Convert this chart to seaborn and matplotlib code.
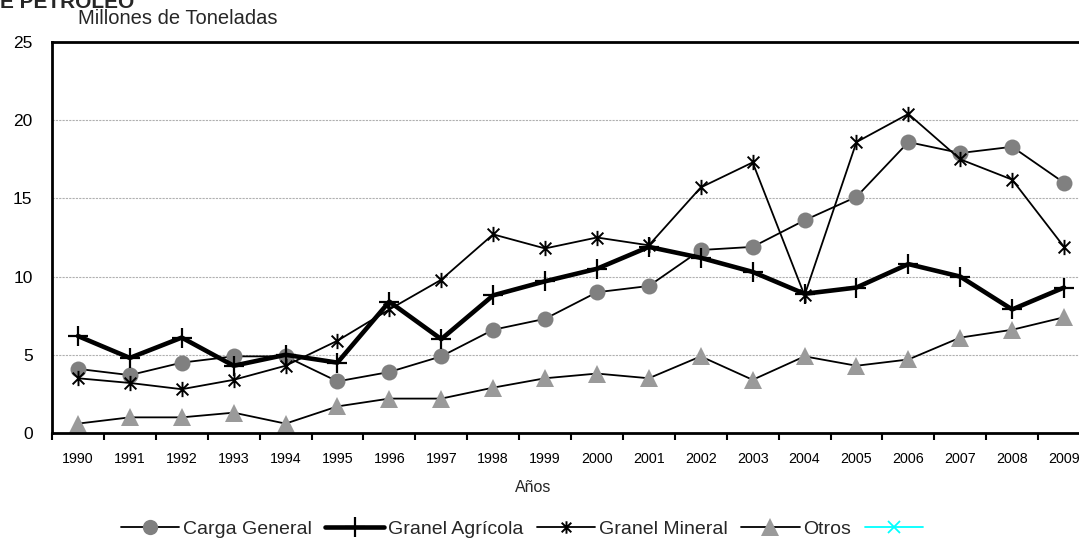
import numpy as np
import pandas as pd
import matplotlib
matplotlib.use("Agg")
import matplotlib.pyplot as plt
from matplotlib.path import Path
from matplotlib.lines import Line2D
import seaborn as sns

years = [str(y) for y in range(1990, 2010)]
carga_general = [4.1, 3.7, 4.5, 4.9, 4.9, 3.3, 3.9, 4.9, 6.6, 7.3, 9.0, 9.4, 11.7, 11.9, 13.6, 15.1, 18.6, 17.9, 18.3, 16.0]
granel_agricola = [6.2, 4.8, 6.1, 4.3, 5.0, 4.5, 8.4, 6.0, 8.8, 9.7, 10.5, 11.9, 11.2, 10.3, 8.9, 9.3, 10.8, 10.0, 7.9, 9.3]
granel_mineral = [3.5, 3.2, 2.8, 3.4, 4.3, 5.9, 7.9, 9.8, 12.7, 11.8, 12.5, 12.0, 15.7, 17.3, 8.8, 18.6, 20.4, 17.5, 16.2, 11.9]
otros = [0.6, 1.0, 1.0, 1.3, 0.6, 1.7, 2.2, 2.2, 2.9, 3.5, 3.8, 3.5, 4.9, 3.4, 4.9, 4.3, 4.7, 6.1, 6.6, 7.4]
series_names = ["Carga General", "Granel Agrícola", "Granel Mineral", "Otros", ""]
y_ticks = [0, 5, 10, 15, 20, 25]

sns.set_theme(style="white")
plt.rcParams["font.family"] = ["Liberation Sans", "DejaVu Sans"]

# asterisk marker (x plus vertical bar)
ast = Path(
    [(-1, -1), (1, 1), (-1, 1), (1, -1), (0, -1.3), (0, 1.3)],
    [Path.MOVETO, Path.LINETO, Path.MOVETO, Path.LINETO, Path.MOVETO, Path.LINETO],
)

fig = plt.figure(figsize=(10.79, 5.41), dpi=100)
ax = fig.add_axes([52 / 1079, 1 - 433 / 541, (1090 - 52) / 1079, (433 - 42) / 541])

x = np.arange(len(years))
df = pd.DataFrame({"x": x, "cg": carga_general, "ga": granel_agricola,
                   "gm": granel_mineral, "ot": otros})

sns.lineplot(data=df, x="x", y="cg", ax=ax, color="black", linewidth=1.3,
             marker="o", markersize=11.5, markerfacecolor="#808080",
             markeredgecolor="#808080", markeredgewidth=0)
sns.lineplot(data=df, x="x", y="ga", ax=ax, color="black", linewidth=3.3,
             marker="+", markersize=14, markeredgecolor="black", markeredgewidth=1.6)
sns.lineplot(data=df, x="x", y="gm", ax=ax, color="black", linewidth=1.3,
             marker=ast, markersize=11, markerfacecolor="black",
             markeredgecolor="black", markeredgewidth=1.4)
sns.lineplot(data=df, x="x", y="ot", ax=ax, color="black", linewidth=1.3,
             marker="^", markersize=13, markerfacecolor="#9a9a9a",
             markeredgecolor="#9a9a9a", markeredgewidth=0)

ax.set_xlim(-0.5, len(years) - 0.5)
ax.set_ylim(0, 25)
ax.set_yticks(y_ticks)
ax.set_yticklabels([str(v) for v in y_ticks], fontsize=12.5)
ax.set_xticks(x)
ax.set_xticklabels(years, fontsize=10.3)
ax.set_xticks(np.arange(-0.5, len(years)), minor=True)
ax.tick_params(axis="x", which="major", length=0, pad=14, colors="black")
ax.tick_params(axis="x", which="minor", length=5, width=1.5, direction="out",
               color="black", bottom=True)
ax.tick_params(axis="y", length=0, pad=14, colors="black")
ax.set_xlabel("")
ax.set_ylabel("")

for v in y_ticks[1:-1]:
    ax.axhline(v, color="#b0b0b0", linewidth=0.8, linestyle=(0, (2, 1)), zorder=0)

for side in ["left", "top", "bottom"]:
    ax.spines[side].set_visible(True)
    ax.spines[side].set_color("black")
    ax.spines[side].set_linewidth(2)
ax.spines["right"].set_visible(False)

fig.text(0, 1 - 8 / 541, "E PETROLEO", fontsize=15, fontweight="bold",
         va="baseline", ha="left")
fig.text(78 / 1079, 1 - 24 / 541, "Millones de Toneladas", fontsize=14.5,
         va="baseline", ha="left")
fig.text(533 / 1079, 1 - 487 / 541, "Años", fontsize=11.5, va="center", ha="center")

handles = [
    Line2D([], [], color="black", linewidth=1.3, marker="o", markersize=11,
           markerfacecolor="#808080", markeredgewidth=0),
    Line2D([], [], color="black", linewidth=3.3, marker="+", markersize=14,
           markeredgecolor="black", markeredgewidth=1.6),
    Line2D([], [], color="black", linewidth=1.3, marker=ast, markersize=9,
           markerfacecolor="black", markeredgecolor="black", markeredgewidth=1.4),
    Line2D([], [], color="black", linewidth=1.3, marker="^", markersize=13,
           markerfacecolor="#9a9a9a", markeredgewidth=0),
    Line2D([], [], color="cyan", linewidth=1.3, marker="x", markersize=8,
           markeredgecolor="cyan", markeredgewidth=1.3),
]
fig.legend(handles, series_names, loc="center", bbox_to_anchor=(524 / 1079, 1 - 529 / 541),
           ncol=5, frameon=False, fontsize=14, handlelength=3.0, handletextpad=0.2,
           columnspacing=0.7)

fig.savefig("out.png", dpi=100)
